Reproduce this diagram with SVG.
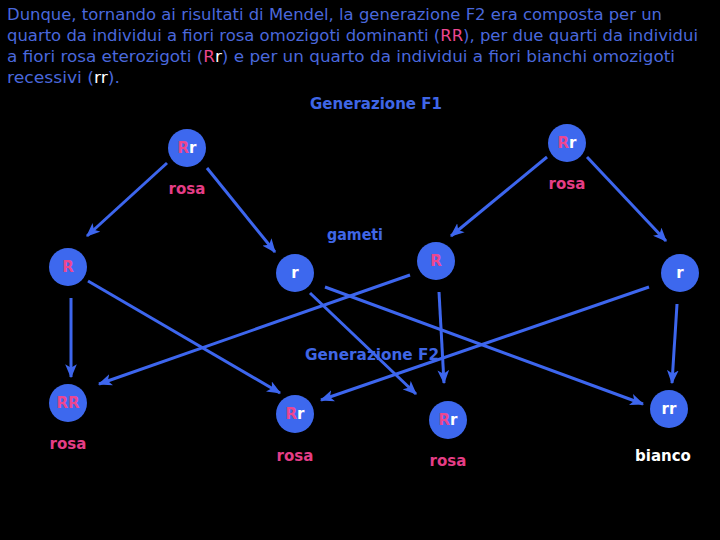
<svg xmlns="http://www.w3.org/2000/svg" width="720" height="540" viewBox="0 0 720 540">
<style>
.body{font-family:"Comic Sans MS","DejaVu Sans",sans-serif;font-size:16px;fill:#4a68dc}
.pk{fill:#ec4790}
.wh{fill:#ffffff}
.hd{font-family:"Comic Sans MS","DejaVu Sans",sans-serif;font-size:16px;font-weight:bold;fill:#3f66e6}
.nd{fill:#3d68ee}
.lbl{font-family:"DejaVu Sans",sans-serif;font-size:15px;font-weight:bold;text-anchor:middle}
.cap{font-family:"DejaVu Sans",sans-serif;font-size:15px;font-weight:bold;text-anchor:middle;fill:#e53d86}
.conn line{stroke:#3d66ee;stroke-width:3;marker-end:url(#ah)}
</style>
<defs>
<marker id="ah" viewBox="0 0 12 10" refX="11" refY="5" markerWidth="14" markerHeight="12" markerUnits="userSpaceOnUse" orient="auto">
<path d="M0,0 L12,5 L0,10 L3,5 z" fill="#3d66ee"/>
</marker>
</defs>
<rect width="720" height="540" fill="#000"/>
<g id="intro">
<text class="body" x="7" y="20" textLength="655" lengthAdjust="spacingAndGlyphs">Dunque, tornando ai risultati di Mendel, la generazione F2 era composta per un</text>
<text class="body" x="7" y="41" textLength="691" lengthAdjust="spacingAndGlyphs">quarto da individui a fiori rosa omozigoti dominanti (<tspan class="pk">RR</tspan>), per due quarti da individui</text>
<text class="body" x="7" y="62" textLength="668" lengthAdjust="spacingAndGlyphs">a fiori rosa eterozigoti (<tspan class="pk">R</tspan><tspan class="wh">r</tspan>) e per un quarto da individui a fiori bianchi omozigoti</text>
<text class="body" x="7" y="83" textLength="113" lengthAdjust="spacingAndGlyphs">recessivi (<tspan class="wh">rr</tspan>).</text>
</g>
<text class="hd" x="310" y="109" textLength="132" lengthAdjust="spacingAndGlyphs">Generazione F1</text>
<text class="hd" x="327" y="240" textLength="56" lengthAdjust="spacingAndGlyphs">gameti</text>
<text class="hd" x="305" y="360" textLength="134" lengthAdjust="spacingAndGlyphs">Generazione F2</text>
<g class="conn" id="connectors">
<line x1="167" y1="163" x2="87" y2="236"/>
<line x1="207" y1="168" x2="275" y2="252"/>
<line x1="547" y1="157" x2="451" y2="236"/>
<line x1="587" y1="157" x2="666" y2="241"/>
<line x1="71" y1="298" x2="71" y2="377"/>
<line x1="88" y1="281" x2="280" y2="393"/>
<line x1="410" y1="275" x2="99" y2="384"/>
<line x1="325" y1="287" x2="643" y2="404"/>
<line x1="310" y1="293" x2="416" y2="394"/>
<line x1="439" y1="292" x2="444" y2="383"/>
<line x1="677" y1="304" x2="672" y2="383"/>
<line x1="649" y1="287" x2="321" y2="400"/>
</g>
<g id="f1a"><circle class="nd" cx="187" cy="148" r="19"/><text class="lbl" x="187" y="153"><tspan class="pk">R</tspan><tspan class="wh">r</tspan></text><text class="cap" x="187" y="194">rosa</text></g>
<g id="f1b"><circle class="nd" cx="567" cy="143" r="19"/><text class="lbl" x="567" y="148"><tspan class="pk">R</tspan><tspan class="wh">r</tspan></text><text class="cap" x="567" y="189">rosa</text></g>
<g id="g1"><circle class="nd" cx="68" cy="267" r="19"/><text class="lbl pk" x="68" y="272">R</text></g>
<g id="g2"><circle class="nd" cx="295" cy="273" r="19"/><text class="lbl wh" x="295" y="278">r</text></g>
<g id="g3"><circle class="nd" cx="436" cy="261" r="19"/><text class="lbl pk" x="436" y="266">R</text></g>
<g id="g4"><circle class="nd" cx="680" cy="273" r="19"/><text class="lbl wh" x="680" y="278">r</text></g>
<g id="f2a"><circle class="nd" cx="68" cy="403" r="19"/><text class="lbl pk" x="68" y="408">RR</text><text class="cap" x="68" y="449">rosa</text></g>
<g id="f2b"><circle class="nd" cx="295" cy="414" r="19"/><text class="lbl" x="295" y="419"><tspan class="pk">R</tspan><tspan class="wh">r</tspan></text><text class="cap" x="295" y="461">rosa</text></g>
<g id="f2c"><circle class="nd" cx="448" cy="420" r="19"/><text class="lbl" x="448" y="425"><tspan class="pk">R</tspan><tspan class="wh">r</tspan></text><text class="cap" x="448" y="466">rosa</text></g>
<g id="f2d"><circle class="nd" cx="669" cy="409" r="19"/><text class="lbl wh" x="669" y="414">rr</text><text class="cap" x="663" y="461" style="fill:#fff">bianco</text></g>
</svg>
